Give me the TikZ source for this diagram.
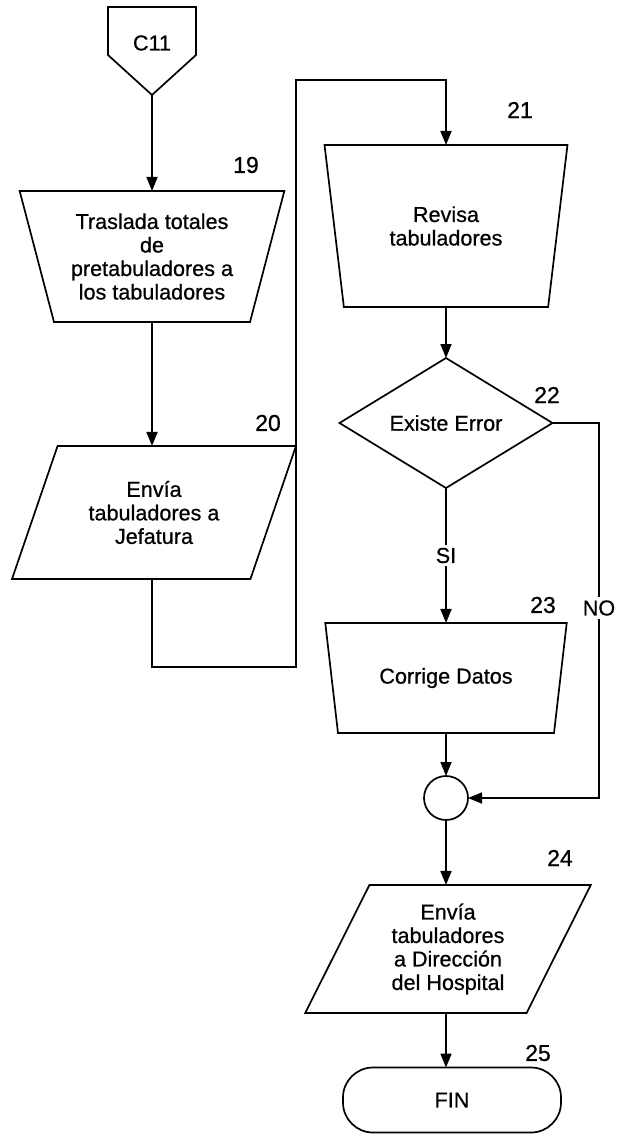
\documentclass[tikz,border=0pt]{standalone}
\usepackage{fontspec}
\setmainfont{Liberation Sans}[FakeBold=0.7]
\usetikzlibrary{shapes.geometric,arrows.meta}
\begin{document}
\begin{tikzpicture}[x=1pt,y=-1pt,
  line width=1.7pt,
  txt/.style={font=\fontsize{21.6}{23.5}\selectfont, align=center},
  num/.style={font=\fontsize{23}{25}\selectfont},
  flow/.style={-{Triangle[width=11pt,length=14pt]}},
  proc/.style={draw, trapezium, trapezium stretches=true, inner sep=0pt, outer sep=0pt, txt},
  lbl/.style={txt, fill=white, inner sep=3pt},
]
\useasboundingbox (0,0) rectangle (625,1136);

% off-page connector C11
\draw (108,7) -- (196,7) -- (196,55) -- (152,95) -- (108,55) -- cycle;
\node[txt] (c11) at (152,43) {C11};
\coordinate (c11tip) at (152,95);

% shapes
\node[proc, trapezium left angle=108.2, trapezium right angle=108.2,
      minimum width=265pt, minimum height=131pt] (n19) at (152,256.5)
      {Traslada totales\\de\\pretabuladores a\\los tabuladores};
\node[proc, trapezium left angle=63.9, trapezium right angle=116.1,
      minimum width=284pt, minimum height=133pt] (n20) at (154,512.5)
      {Envía\\tabuladores a\\Jefatura};
\node[proc, trapezium left angle=105.2, trapezium right angle=105.2,
      minimum width=243pt, minimum height=162pt] (n21) at (446,226)
      {Revisa\\tabuladores};
\node[draw, diamond, aspect=1.64, inner sep=0pt, outer sep=0pt,
      minimum width=213pt, minimum height=130pt, txt] (n22) at (446,423)
      {Existe Error};
\node[proc, trapezium left angle=111.3, trapezium right angle=111.3,
      minimum width=242pt, minimum height=110pt] (n23) at (446,678)
      {Corrige Datos};
\node[draw, circle, minimum size=44pt, inner sep=0pt, outer sep=0pt] (circ) at (446,798) {};
\node[proc, trapezium left angle=63.1, trapezium right angle=116.9,
      minimum width=286pt, minimum height=128pt] (n24) at (448,949)
      {Envía\\tabuladores\\a Dirección\\del Hospital};
\node[draw, rectangle, rounded corners=30pt, minimum width=218pt, minimum height=65pt,
      inner sep=0pt, outer sep=0pt, txt] (fin) at (452,1100) {FIN};

% step numbers
\node[num] (l19) at (246,165) {19};
\node[num] (l20) at (268,423) {20};
\node[num] (l21) at (520,110) {21};
\node[num] (l22) at (547,395) {22};
\node[num] (l23) at (543,605) {23};
\node[num] (l24) at (560,858) {24};
\node[num] (l25) at (538,1053) {25};

% connectors
\coordinate (la) at (296,667);
\coordinate (lb) at (296,80);
\coordinate (noc) at (599,798);

\draw[flow] (c11tip) -- (n19.north);
\draw[flow] (n19.south) -- (n19.south |- n20.north);
\draw[flow] (n19.south |- n20.south) |- (la) -- (lb) -| (n21.north);
\draw[flow] (n21.south) -- (n22.north);
\draw[flow] (n22.south) -- node[lbl] (lsi) {SI} (n23.north);
\draw[flow] (n22.east) -| (noc) -- (circ.east);
\node[lbl] (lno) at (599,608) {NO};
\draw[flow] (n23.south) -- (circ.north);
\draw[flow] (circ.south) -- (circ.south |- n24.north);
\draw[flow] (circ.south |- n24.south) -- (circ.south |- fin.north);
\end{tikzpicture}
\end{document}
